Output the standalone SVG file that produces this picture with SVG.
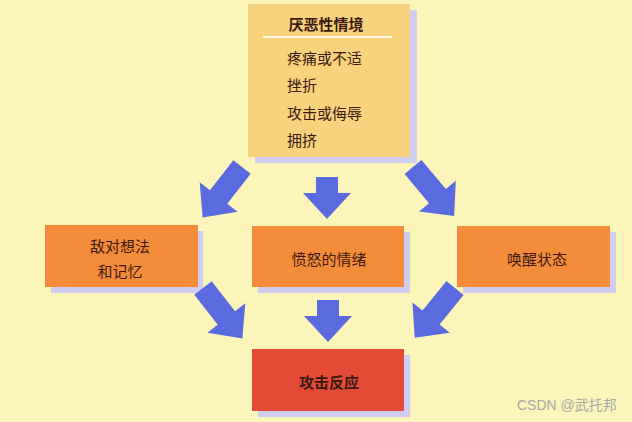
<svg xmlns="http://www.w3.org/2000/svg" width="632" height="422" viewBox="0 0 632 422">
<defs>
<style>
.t{font-family:"Noto Sans CJK SC","Noto Sans",sans-serif;font-size:15px;fill:#3a1a10}
.c{text-anchor:middle}
.sh{fill:#cfcdf0}
.arr{fill:#5a6be0}
</style>
<polygon id="ar" points="-11,0 11,0 11,16 24,16 0,42 -24,16 -11,16"/>
<polygon id="ard" points="-11,0 11,0 11,38 24,38 0,64 -24,38 -11,38"/>
</defs>
<rect width="632" height="422" fill="#fbf5ba"/>
<g id="node-top">
<rect class="sh" x="255" y="10" width="162" height="153"/>
<rect x="248" y="4" width="162" height="153" fill="#f8d27c"/>
<text class="t c" x="326" y="30" font-weight="bold">厌恶性情境</text>
<line x1="263" y1="37" x2="392" y2="37" stroke="#fff8e8" stroke-width="2"/>
<text class="t" x="287" y="64">疼痛或不适</text>
<text class="t" x="287" y="91">挫折</text>
<text class="t" x="287" y="119">攻击或侮辱</text>
<text class="t" x="287" y="146">拥挤</text>
</g>
<g id="node-hostile">
<rect class="sh" x="51" y="231" width="152" height="62"/>
<rect x="45" y="225" width="153" height="62" fill="#f58c3c"/>
<text class="t c" x="120" y="252">敌对想法</text>
<text class="t c" x="120" y="277">和记忆</text>
</g>
<g id="node-anger">
<rect class="sh" x="258" y="232" width="152" height="61"/>
<rect x="252" y="226" width="152" height="61" fill="#f58c3c"/>
<text class="t c" x="329" y="265">愤怒的情绪</text>
</g>
<g id="node-arousal">
<rect class="sh" x="463" y="232" width="153" height="61"/>
<rect x="457" y="226" width="153" height="61" fill="#f58c3c"/>
<text class="t c" x="537" y="265">唤醒状态</text>
</g>
<g id="node-aggression">
<rect class="sh" x="258" y="355" width="152" height="62"/>
<rect x="252" y="349" width="152" height="62" fill="#e54a37"/>
<text class="t c" x="329" y="388" font-weight="bold">攻击反应</text>
</g>
<g id="connectors" class="arr">
<use href="#ard" transform="translate(242,167) rotate(38)"/>
<use href="#ar" transform="translate(327,177)"/>
<use href="#ard" transform="translate(413,167) rotate(-40)"/>
<use href="#ard" transform="translate(203,288) rotate(-38)"/>
<use href="#ar" transform="translate(328,300)"/>
<use href="#ard" transform="translate(455,288) rotate(39)"/>
</g>
<text x="517" y="410" font-family="'Liberation Sans','Noto Sans CJK SC',sans-serif" font-size="14" fill="#a8a8a8">CSDN @武托邦</text>
</svg>
